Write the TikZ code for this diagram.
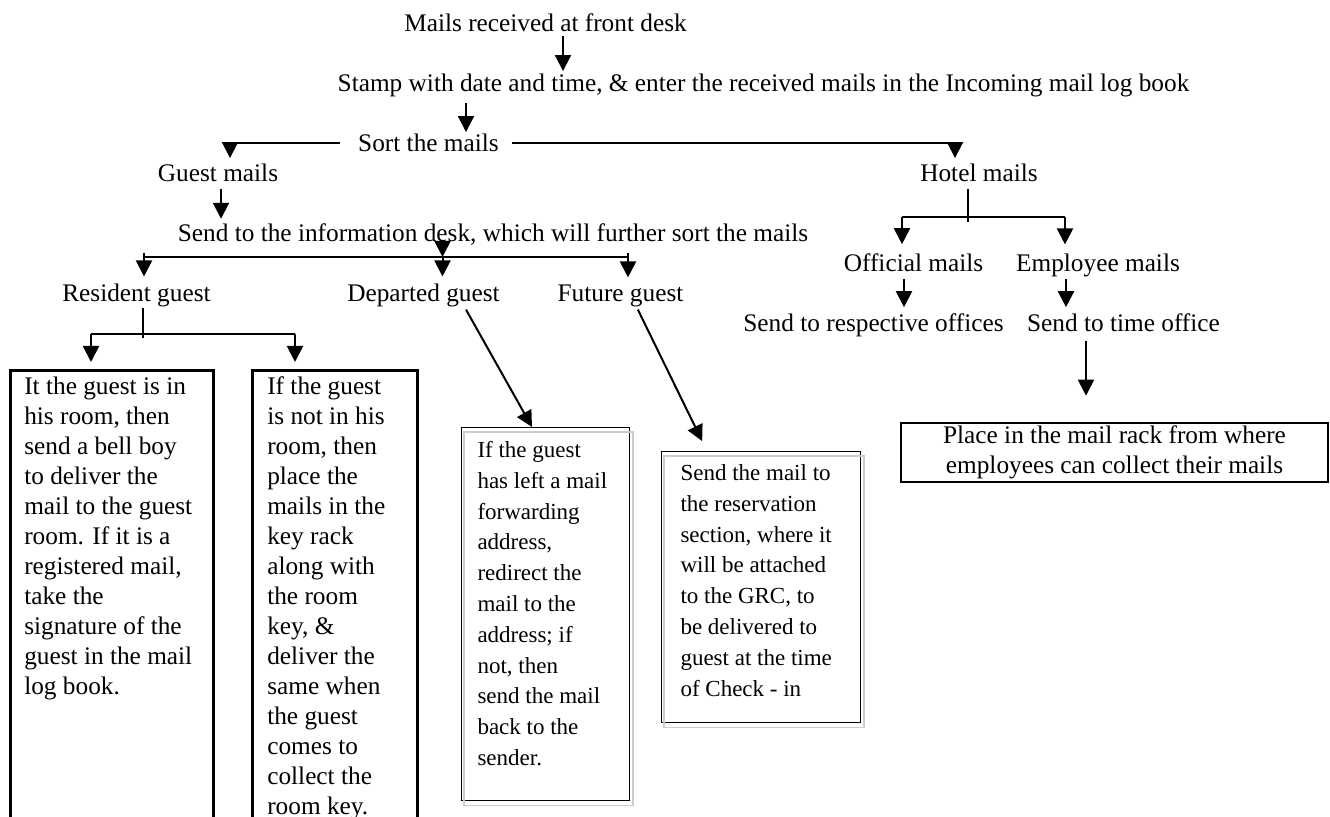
\documentclass[tikz,border=0pt]{standalone}
\usepackage{fontspec}
\setmainfont{Liberation Serif}
\usepackage{tikz}
\usetikzlibrary{arrows.meta,calc}
\definecolor{shadowgray}{RGB}{205,205,205}
\newcommand{\notetext}[3]{\parbox[t][#1][t]{#2}{\raggedright\strut #3}}
\tikzset{
  lbl/.style={inner sep=0pt,anchor=base},
  arr/.style={line width=1pt,-{Triangle[width=8pt,length=8pt]}},
  joinline/.style={line width=1.2pt},
  forkline/.style={line width=0.7pt},
  thickbox/.style={draw,line width=1.3pt,anchor=north west,inner ysep=1.5pt},
  thinbox/.style={draw,line width=0.5pt,anchor=north west,font=\fontsize{11.5}{15.4}\selectfont},
  shadowbox/.style={draw=shadowgray,line width=0.6pt}
}

\begin{document}
\begin{tikzpicture}[x=0.5pt,y=-0.5pt,font=\fontsize{12.65}{15}\selectfont]
  \useasboundingbox (0,0) rectangle (1330,817);
  \clip (0,0) rectangle (1330,817);
  \node[lbl] (recv) at (545.5,32) {Mails received at front desk};
  \node[lbl] (stamp) at (763.5,92) {Stamp with date and time, \& enter the received mails in the Incoming mail log book};
  \node[lbl] (sort) at (428.5,152) {Sort the mails};
  \node[lbl] (guest) at (218,182) {Guest mails};
  \node[lbl] (hotel) at (979,182) {Hotel mails};
  \node[lbl] (info) at (493,242) {Send to the information desk, which will further sort the mails};
  \node[lbl] (res) at (136.5,302) {Resident guest};
  \node[lbl] (dep) at (423.5,302) {Departed guest};
  \node[lbl] (fut) at (620.5,302) {Future guest};
  \node[lbl] (offl) at (913.5,272) {Official mails};
  \node[lbl] (empl) at (1098,272) {Employee mails};
  \node[lbl,anchor=base east] (offc) at (1004,332) {Send to respective offices};
  \node[lbl] (timeoff) at (1123.5,332) {Send to time office};
  \node[thickbox,inner xsep=7pt] (b1) at (9,369) {\notetext{227.5pt}{87.5pt}{It the guest is in\\his room, then\\send a bell boy\\to deliver the\\mail to the guest\\room. If it is a\\registered mail,\\take the\\signature of the\\guest in the mail\\log book.}};
  \node[thickbox,inner xsep=7.5pt] (b2) at (251,369) {\notetext{227.5pt}{67.5pt}{If the guest\\is not in his\\room, then\\place the\\mails in the\\key rack\\along with\\the room\\key, \&\\deliver the\\same when\\the guest\\comes to\\collect the\\room key.}};
  \node[thinbox,inner xsep=8pt,inner ysep=4.2pt] (b3) at (461,427) {\notetext{178pt}{68pt}{If the guest\\has left a mail\\forwarding\\address,\\redirect the\\mail to the\\address; if\\not, then\\send the mail\\back to the\\sender.}};
  \node[thinbox,inner xsep=9.5pt,inner ysep=3.7pt] (b4) at (661,451) {\notetext{128pt}{80.5pt}{Send the mail to\\the reservation\\section, where it\\will be attached\\to the GRC, to\\be delivered to\\guest at the time\\of Check - in}};
  \node[draw,line width=1.3pt,align=center,minimum width=213.5pt,minimum height=29.5pt,inner sep=0pt] (rack) at (1114.5,452.5) {Place in the mail rack from where\\employees can collect their mails};
  \foreach \b in {b3,b4}
    \draw[shadowbox] ([shift={(3,5)}]\b.north west) rectangle ([shift={(3,5)}]\b.south east);

  \draw[arr,shorten <=1.5pt,shorten >=1.5pt] (563,0 |- recv.south) -- (563,0 |- stamp.north);
  \draw[arr,shorten <=2.5pt,shorten >=1pt] (466,0 |- stamp.south) -- (466,0 |- sort.north);
  \draw[arr,shorten <=9pt,shorten >=3pt] (sort.west) -| (230,0 |- guest.north);
  \draw[arr,shorten <=6.5pt,shorten >=3pt] (sort.east) -| (955,0 |- hotel.north);
  \draw[arr,shorten <=3pt,shorten >=2.5pt] (221,0 |- guest.south) -- (221,0 |- info.north);

  \coordinate (gbar) at (442.5,257);
  \draw[arr] (gbar |- info.base) -- (gbar);
  \draw[joinline] (144,0 |- gbar) ++(0,-4) -- ++(0,4) -- (628,0 |- gbar) -- ++(0,-4);
  \foreach \x/\n in {144/res,442.5/dep,628/fut}
    \draw[arr,shorten >=3.8pt] (\x,0 |- gbar) -- (\x,0 |- \n.north);

  \coordinate (rfork) at (143,334);
  \draw[forkline] (rfork |- res.south) -- ([yshift=-2pt]rfork);
  \draw[joinline] (91,0 |- rfork) -- (295,0 |- rfork);
  \draw[arr,shorten >=3.5pt] (91,0 |- rfork) -- (b1.north -| 91,0);
  \draw[arr,shorten >=3.5pt] (295,0 |- rfork) -- (b2.north -| 295,0);
  \draw[arr,shorten <=1pt] (465,0 |- dep.south) -- (b3.north -| 532,0);
  \draw[arr,shorten <=1pt,shorten >=5.5pt] (637,0 |- fut.south) -- (b4.north -| 707,0);

  \coordinate (hfork) at (968,217);
  \draw[forkline,shorten <=3pt] (hfork |- hotel.south) -- ([yshift=-2.5pt]hfork);
  \draw[joinline] (902,0 |- hfork) -- (1065,0 |- hfork);
  \draw[arr,shorten >=4.8pt] (902,0 |- hfork) -- (902,0 |- offl.north);
  \draw[arr,shorten >=4.8pt] (1065,0 |- hfork) -- (1065,0 |- empl.north);
  \draw[arr,shorten <=3pt,shorten >=3.3pt] (904,0 |- offl.south) -- (904,0 |- offc.north);
  \draw[arr,shorten <=0.5pt,shorten >=3.3pt] (1066,0 |- empl.south) -- (1066,0 |- timeoff.north);
  \draw[arr,shorten <=4pt,shorten >=13pt] (1086,0 |- timeoff.south) -- (1086,0 |- rack.north);
\end{tikzpicture}
\end{document}
